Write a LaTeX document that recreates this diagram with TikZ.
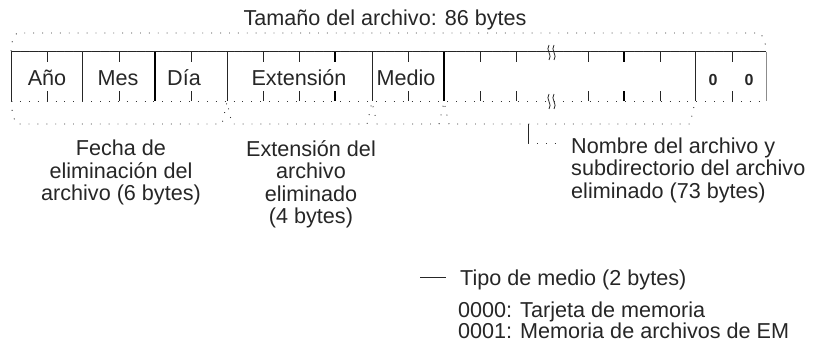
\documentclass[tikz,border=0pt]{standalone}
\usepackage{fontspec}
\setmainfont{Liberation Sans}
\usetikzlibrary{positioning}

\begin{document}
\begin{tikzpicture}[x=1pt,y=-1pt,font=\fontsize{21.6}{22.5}\selectfont,
  dotline/.style={line width=0.9pt,dash pattern=on 0.9pt off 8pt,black!80},
  divider/.style={line width=0.8pt,black!85},
  thickdiv/.style={line width=2.4pt,black},
  lbl/.style={inner sep=0pt,text=black!85,align=center}]

\useasboundingbox (0,0) rectangle (819,348);

% Overall size brace
\node[lbl,anchor=base] (title) at (385,25) {Tamaño del archivo: 86 bytes};
\draw[dotline] (11,51) .. controls (12,40) .. (17,33) -- (760,33)
  .. controls (765,40) .. (766,51);

% Record frame
\draw[divider] (11,51.5) -- (766,51.5);
\draw[dotline] (11,51.5) -- (766,51.5);
\draw[dotline] (11,101) -- (766,101);
\draw[divider] (11,51.5) -- (11,101) (82,51.5) -- (82,101) (227,51.5) -- (227,101)
  (372,51.5) -- (372,101) (695,51.5) -- (695,101);
\draw[divider,black!45] (766,51.5) -- (766,101);
\draw[thickdiv] (155,51.5) -- (155,101) (444,51.5) -- (444,101);

% Byte ticks
\draw[divider] (47,51.5) -- ++(0,10) (47,101) -- ++(0,-10)
  (119,51.5) -- ++(0,10) (119,101) -- ++(0,-10)
  (191,51.5) -- ++(0,10) (191,101) -- ++(0,-10)
  (263,51.5) -- ++(0,10) (263,101) -- ++(0,-10)
  (299,51.5) -- ++(0,10) (299,101) -- ++(0,-10)
  (408,51.5) -- ++(0,10) (408,101) -- ++(0,-10)
  (480,51.5) -- ++(0,10) (480,101) -- ++(0,-10)
  (516,51.5) -- ++(0,10) (516,101) -- ++(0,-10)
  (588,51.5) -- ++(0,10) (588,101) -- ++(0,-10)
  (660,51.5) -- ++(0,10) (660,101) -- ++(0,-10)
  (732,51.5) -- ++(0,10) (732,101) -- ++(0,-10);
\draw[thickdiv,line width=1.8pt] (335,51.5) -- ++(0,10) (335,101) -- ++(0,-10)
  (624,51.5) -- ++(0,10) (624,101) -- ++(0,-10);

% Break marks
\draw[divider] (549,45) .. controls (545,50) and (553,55) .. (549,60)
  (554,45) .. controls (550,50) and (558,55) .. (554,60)
  (549,94) .. controls (545,99) and (553,104) .. (549,109)
  (554,94) .. controls (550,99) and (558,104) .. (554,109);

% Field names
\node[lbl,anchor=base] (ano) at (47,85) {Año};
\node[lbl,anchor=base] (mes) at (118,85) {Mes};
\node[lbl,anchor=base] (dia) at (184,85) {Día};
\node[lbl,anchor=base] (ext) at (299,85) {Extensión};
\node[lbl,anchor=base] (medio) at (406,85) {Medio};
\node[lbl,anchor=base,font=\fontsize{16}{16}\selectfont\bfseries] (z1) at (713,85) {0};
\node[lbl,anchor=base,font=\fontsize{16}{16}\selectfont\bfseries] (z2) at (749,85) {0};

% Lower braces
\draw[dotline] (12,101) .. controls (12,115) .. (17,124) -- (222,124) -- (227,102)
  -- (232,124) -- (367,124) -- (372,102) -- (377,124) -- (439,124) -- (444,102)
  -- (449,124) -- (690,124) -- (695,102);

% Descriptions
\node[lbl,anchor=north] (fecha) at (121,140)
  {Fecha de\\eliminación del\\archivo (6 bytes)};
\node[lbl,anchor=north] (extlbl) at (311,140)
  {Extensión del\\archivo\\eliminado\\(4 bytes)};
\node[lbl,anchor=north west,align=left] (nombre) at (571,137.5)
  {Nombre del archivo y\\subdirectorio del archivo\\eliminado (73 bytes)};
\coordinate (nb) at (528,124);
\draw[divider] (nb) -- ++(0,19) coordinate (nc);
\draw[dotline] (nc) -- ([xshift=-8pt]nombre.west |- nc);

% Media type
\node[lbl,anchor=base west] (tipo) at (460,285) {Tipo de medio (2 bytes)};
\node[lbl,anchor=north west,align=left,font=\fontsize{21.6}{21}\selectfont] (codes)
  at (458,301.5) {0000: Tarjeta de memoria\\0001: Memoria de archivos de EM};
\coordinate (tp) at (420,277);
\draw[divider] (tp) -- ([xshift=-14pt]tipo.west |- tp);

\end{tikzpicture}
\end{document}
